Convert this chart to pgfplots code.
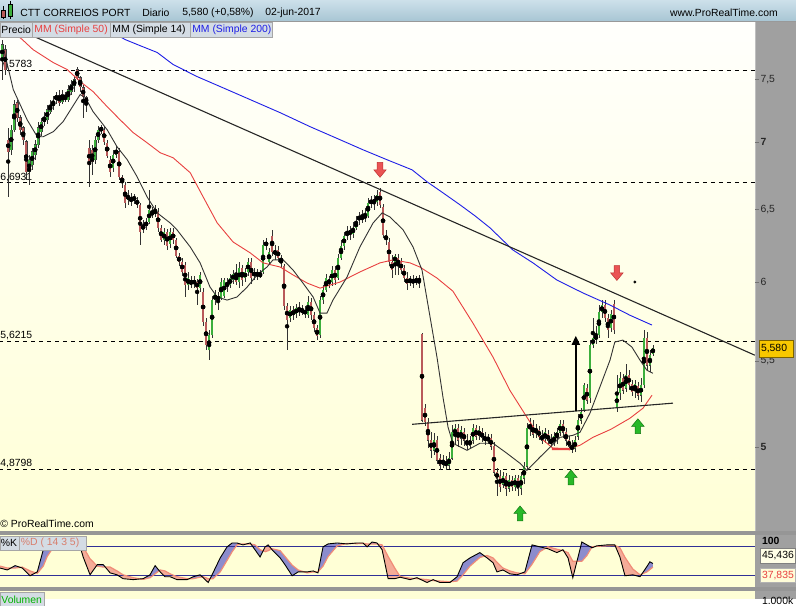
\documentclass[border=0pt]{standalone}
\usepackage{pgfplots}
\pgfplotsset{compat=1.18}
\usepackage{pgfplotstable}
\usepgfplotslibrary{fillbetween}
\usetikzlibrary{arrows.meta}
\usepackage{fontspec}
\setmainfont{Liberation Sans}
\newcommand\f{\fontsize{10.4bp}{12bp}\selectfont}

\definecolor{cup}{RGB}{60,175,60}
\definecolor{cdn}{RGB}{185,90,90}
\definecolor{ma50}{RGB}{232,64,64}
\definecolor{ma200}{RGB}{30,30,230}
\definecolor{stripe}{RGB}{160,160,160}
\definecolor{sep}{RGB}{150,150,150}
\definecolor{hdrtop}{RGB}{205,224,234}
\definecolor{hdrbot}{RGB}{168,198,212}
\definecolor{tabbg}{RGB}{212,220,228}
\definecolor{pantop}{RGB}{255,255,252}
\definecolor{panbot}{RGB}{255,255,214}
\definecolor{stobg}{RGB}{255,255,214}
\definecolor{kfill}{RGB}{140,140,205}
\definecolor{dfill}{RGB}{244,172,152}
\definecolor{dline}{RGB}{240,140,120}
\definecolor{lvl}{RGB}{48,48,150}
\definecolor{arrR}{RGB}{234,84,84}
\definecolor{arrRd}{RGB}{190,50,50}
\definecolor{arrG}{RGB}{40,185,40}
\definecolor{arrGd}{RGB}{20,120,20}
\definecolor{gold}{RGB}{248,200,0}

\pgfdeclareplotmark{uparr}{%
  \pgfpathmoveto{\pgfqpoint{-2.8pt}{-7.5pt}}%
  \pgfpathlineto{\pgfqpoint{2.8pt}{-7.5pt}}%
  \pgfpathlineto{\pgfqpoint{2.8pt}{0pt}}%
  \pgfpathlineto{\pgfqpoint{6.2pt}{0pt}}%
  \pgfpathlineto{\pgfqpoint{0pt}{7.5pt}}%
  \pgfpathlineto{\pgfqpoint{-6.2pt}{0pt}}%
  \pgfpathlineto{\pgfqpoint{-2.8pt}{0pt}}%
  \pgfpathclose\pgfusepathqfillstroke}
\pgfdeclareplotmark{dnarr}{%
  \pgfpathmoveto{\pgfqpoint{-2.8pt}{7.5pt}}%
  \pgfpathlineto{\pgfqpoint{2.8pt}{7.5pt}}%
  \pgfpathlineto{\pgfqpoint{2.8pt}{0pt}}%
  \pgfpathlineto{\pgfqpoint{6.2pt}{0pt}}%
  \pgfpathlineto{\pgfqpoint{0pt}{-7.5pt}}%
  \pgfpathlineto{\pgfqpoint{-6.2pt}{0pt}}%
  \pgfpathlineto{\pgfqpoint{-2.8pt}{0pt}}%
  \pgfpathclose\pgfusepathqfillstroke}

% daily candles: open high low close
\pgfplotstableread{
i o h l c
0 7.668 7.839 7.500 7.796
1 7.753 7.796 7.542 7.583
2 7.019 7.113 6.591 6.927
3 6.942 7.136 6.904 7.097
4 7.097 7.336 7.081 7.296
5 7.312 7.336 7.160 7.192
6 7.192 7.216 7.058 7.097
7 7.113 7.129 6.981 7.019
8 7.004 7.019 6.716 6.775
9 6.775 6.904 6.679 6.866
10 6.828 6.957 6.790 6.927
11 6.904 7.019 6.866 6.981
12 6.981 7.160 6.957 7.113
13 7.081 7.192 7.050 7.160
14 7.160 7.240 7.129 7.192
15 7.176 7.296 7.144 7.256
16 7.240 7.336 7.224 7.296
17 7.288 7.369 7.256 7.320
18 7.336 7.402 7.304 7.369
19 7.369 7.418 7.288 7.312
20 7.320 7.418 7.304 7.377
21 7.369 7.402 7.320 7.336
22 7.336 7.459 7.320 7.418
23 7.402 7.500 7.377 7.459
24 7.451 7.533 7.402 7.500
25 7.583 7.608 7.500 7.516
26 7.516 7.533 7.402 7.443
27 7.434 7.459 7.192 7.361
28 7.353 7.369 7.240 7.312
29 6.957 7.019 6.664 6.828
30 6.942 6.981 6.753 6.851
31 6.866 7.050 6.836 7.019
32 7.019 7.129 6.996 7.097
33 7.089 7.136 7.066 7.113
34 7.097 7.121 6.981 7.004
35 6.996 7.019 6.881 6.896
36 6.866 6.896 6.738 6.775
37 6.805 6.942 6.775 6.904
38 6.904 6.973 6.881 6.942
39 6.927 6.957 6.716 6.738
40 6.738 6.753 6.657 6.694
41 6.679 6.701 6.511 6.547
42 6.569 6.642 6.533 6.605
43 6.584 6.620 6.526 6.555
44 6.569 6.613 6.540 6.591
45 6.569 6.591 6.511 6.533
46 6.533 6.547 6.251 6.341
47 6.355 6.425 6.334 6.390
48 6.383 6.439 6.355 6.411
49 6.411 6.642 6.397 6.497
50 6.483 6.519 6.439 6.461
51 6.468 6.533 6.447 6.497
52 6.483 6.511 6.341 6.369
53 6.369 6.390 6.271 6.285
54 6.285 6.369 6.251 6.341
55 6.341 6.362 6.216 6.244
56 6.257 6.369 6.230 6.341
57 6.341 6.369 6.257 6.285
58 6.285 6.299 6.162 6.175
59 6.175 6.196 6.107 6.134
60 6.134 6.162 6.040 6.067
61 6.114 6.134 5.902 5.980
62 5.980 6.067 5.947 6.026
63 6.013 6.040 5.960 5.980
64 5.987 6.040 5.960 6.013
65 6.000 6.020 5.850 5.960
66 5.960 6.067 5.934 6.047
67 5.934 5.960 5.715 5.740
68 5.740 5.766 5.566 5.597
69 5.566 5.690 5.505 5.659
70 5.659 5.908 5.640 5.882
71 5.882 5.947 5.850 5.921
72 5.908 5.934 5.817 5.882
73 5.895 6.026 5.882 6.000
74 5.908 6.026 5.895 6.013
75 6.000 6.026 5.934 5.973
76 5.980 6.053 5.960 6.026
77 6.013 6.080 5.987 6.053
78 6.053 6.121 5.980 6.000
79 6.000 6.134 5.960 6.094
80 6.094 6.114 5.973 6.013
81 6.026 6.094 6.000 6.067
82 6.067 6.162 6.040 6.134
83 6.134 6.162 5.987 6.026
84 6.040 6.094 6.013 6.067
85 6.067 6.087 6.013 6.040
86 6.040 6.080 6.026 6.053
87 6.067 6.285 6.053 6.251
88 6.244 6.299 6.216 6.271
89 6.134 6.230 6.114 6.202
90 6.313 6.355 6.175 6.202
91 6.216 6.251 6.148 6.182
92 6.216 6.244 6.134 6.162
93 6.162 6.182 6.094 6.134
94 6.107 6.121 5.817 5.843
95 5.843 5.863 5.566 5.753
96 5.766 5.843 5.740 5.817
97 5.817 5.843 5.753 5.785
98 5.791 5.856 5.766 5.830
99 5.830 5.869 5.779 5.804
100 5.804 5.850 5.785 5.824
101 5.817 5.843 5.766 5.791
102 5.785 5.908 5.766 5.869
103 5.869 5.895 5.753 5.785
104 5.785 5.804 5.678 5.703
105 5.703 5.722 5.628 5.653
106 5.659 5.908 5.640 5.882
107 5.882 5.980 5.856 5.947
108 5.947 6.053 5.934 6.026
109 6.013 6.040 5.960 5.993
110 6.000 6.107 5.973 6.080
111 6.080 6.107 5.980 6.013
112 6.026 6.189 6.013 6.162
113 6.162 6.285 6.148 6.244
114 6.244 6.341 6.216 6.313
115 6.313 6.383 6.285 6.341
116 6.355 6.383 6.285 6.320
117 6.327 6.411 6.299 6.369
118 6.369 6.454 6.355 6.411
119 6.425 6.483 6.390 6.454
120 6.454 6.497 6.404 6.425
121 6.439 6.511 6.411 6.461
122 6.454 6.584 6.439 6.547
123 6.540 6.598 6.511 6.569
124 6.569 6.605 6.497 6.547
125 6.555 6.642 6.526 6.605
126 6.627 6.657 6.511 6.533
127 6.519 6.540 6.299 6.320
128 6.313 6.355 6.251 6.285
129 6.271 6.299 6.107 6.134
130 6.134 6.182 6.026 6.080
131 6.134 6.189 6.047 6.175
132 6.162 6.189 6.047 6.107
133 6.134 6.162 6.053 6.080
134 6.094 6.114 6.000 6.026
135 6.026 6.067 5.947 5.987
136 6.000 6.040 5.973 6.020
137 6.020 6.047 5.960 5.993
138 5.993 6.040 5.980 6.026
139 6.026 6.047 5.960 6.000
140 5.665 5.672 5.141 5.152
141 5.221 5.244 5.118 5.141
142 5.141 5.163 4.995 5.039
143 5.039 5.084 4.940 4.984
144 4.984 5.078 4.957 5.039
145 5.039 5.061 4.907 4.929
146 4.940 4.962 4.875 4.902
147 4.907 4.957 4.886 4.929
148 4.918 4.951 4.875 4.902
149 4.902 4.973 4.880 4.940
150 4.940 5.124 4.929 5.084
151 5.073 5.129 5.012 5.107
152 5.107 5.129 5.001 5.039
153 5.050 5.118 5.012 5.095
154 5.084 5.107 5.006 5.039
155 5.039 5.073 4.984 5.012
156 5.012 5.061 4.995 5.039
157 5.039 5.129 5.017 5.107
158 5.107 5.124 5.039 5.061
159 5.067 5.118 5.039 5.095
160 5.084 5.107 5.028 5.056
161 5.061 5.084 5.012 5.039
162 5.039 5.073 5.017 5.056
163 5.050 5.073 4.984 5.006
164 5.006 5.028 4.843 4.864
165 4.864 4.886 4.742 4.832
166 4.843 4.875 4.758 4.789
167 4.800 4.864 4.779 4.843
168 4.843 4.859 4.742 4.779
169 4.779 4.848 4.758 4.821
170 4.821 4.843 4.768 4.789
171 4.789 4.853 4.763 4.832
172 4.832 4.848 4.737 4.779
173 4.779 4.864 4.747 4.843
174 4.832 4.918 4.800 4.897
175 4.897 5.135 4.875 5.107
176 5.107 5.163 5.061 5.129
177 5.118 5.152 5.050 5.073
178 5.084 5.129 5.050 5.107
179 5.095 5.118 5.039 5.061
180 5.067 5.095 5.017 5.039
181 5.050 5.107 5.023 5.084
182 5.073 5.095 5.017 5.039
183 5.039 5.073 5.001 5.023
184 5.028 5.084 5.006 5.061
185 5.056 5.107 5.017 5.084
186 5.084 5.152 5.061 5.129
187 5.129 5.152 5.050 5.084
188 5.084 5.107 5.006 5.039
189 5.039 5.061 4.984 5.006
190 5.006 5.039 4.968 4.990
191 4.995 5.061 4.973 5.039
192 5.061 5.186 5.039 5.152
193 5.152 5.221 5.129 5.198
194 5.209 5.366 5.198 5.355
195 5.337 5.360 5.244 5.267
196 5.279 5.628 5.250 5.597
197 5.597 5.766 5.578 5.640
198 5.628 5.715 5.603 5.659
199 5.659 5.850 5.640 5.804
200 5.804 5.882 5.766 5.850
201 5.850 5.882 5.740 5.766
202 5.766 5.791 5.640 5.690
203 5.703 5.817 5.678 5.791
204 5.856 5.882 5.665 5.690
205 5.221 5.414 5.198 5.308
206 5.308 5.432 5.267 5.396
207 5.396 5.420 5.302 5.325
208 5.337 5.480 5.314 5.414
209 5.414 5.444 5.325 5.355
210 5.360 5.384 5.290 5.314
211 5.325 5.384 5.279 5.360
212 5.349 5.372 5.267 5.296
213 5.296 5.396 5.256 5.355
214 5.355 5.690 5.337 5.640
215 5.640 5.678 5.444 5.474
216 5.474 5.566 5.432 5.536
217 5.542 5.597 5.530 5.580
}\candles

% MM (Simple 200)
\pgfplotstableread{
i p
26.0 8.000
32.7 7.942
38.7 7.873
41.0 7.839
46.0 7.787
51.7 7.728
57.0 7.626
65.0 7.525
72.7 7.443
82.7 7.336
92.7 7.232
102.7 7.121
112.7 7.019
120.3 6.942
128.3 6.866
136.7 6.790
141.7 6.701
147.0 6.620
152.7 6.533
157.7 6.454
162.7 6.369
170.3 6.216
177.0 6.128
185.0 6.013
193.7 5.928
202.7 5.850
209.3 5.785
216.7 5.722
}\maL

% MM (Simple 50)
\pgfplotstableread{
i p
-0.7 8.000
1.0 7.959
6.7 7.839
10.3 7.753
17.0 7.643
21.7 7.583
26.0 7.484
30.3 7.402
35.0 7.280
39.3 7.176
43.7 7.074
48.3 6.996
52.7 6.919
57.0 6.881
62.7 6.768
67.0 6.591
71.7 6.404
77.0 6.271
82.7 6.196
87.0 6.128
92.7 6.100
97.0 6.047
101.7 5.993
106.0 5.960
112.7 6.000
119.3 6.067
126.0 6.128
130.3 6.148
136.0 6.128
139.3 6.100
145.0 6.026
150.3 5.940
157.0 5.734
163.7 5.523
169.3 5.325
175.0 5.169
179.3 5.056
183.7 4.995
188.3 4.990
192.7 5.012
197.0 5.056
203.0 5.101
209.3 5.163
213.7 5.221
216.7 5.296
}\maM

% MM (Simple 14)
\pgfplotstableread{
i p
0.3 7.779
3.7 7.418
8.3 7.176
11.7 7.042
13.7 7.042
17.0 7.081
20.3 7.160
24.3 7.312
26.0 7.377
27.7 7.353
30.3 7.240
35.0 7.097
38.3 6.965
41.7 6.866
45.0 6.738
48.3 6.591
51.7 6.475
56.0 6.404
58.3 6.355
62.7 6.237
66.0 6.128
69.3 5.967
71.7 5.902
75.0 5.882
78.3 5.902
81.7 5.967
85.0 6.047
88.3 6.100
90.3 6.148
93.7 6.148
97.0 6.080
100.3 5.993
103.7 5.902
106.0 5.798
108.3 5.798
110.3 5.882
115.0 6.033
119.3 6.237
123.7 6.404
126.7 6.475
129.3 6.447
133.7 6.355
137.0 6.237
140.0 6.080
142.7 5.772
145.0 5.523
147.0 5.284
148.7 5.112
150.3 5.023
155.0 4.984
159.3 5.023
163.7 5.023
168.3 4.968
172.7 4.913
175.0 4.875
179.3 4.946
182.7 5.001
186.0 5.056
190.3 5.067
192.7 5.084
196.0 5.192
199.3 5.343
202.7 5.505
204.3 5.616
207.0 5.628
210.0 5.585
212.7 5.505
215.0 5.444
217.0 5.426
}\maS

% Stochastic %K and %D (14 3 5)
\pgfplotstableread{
i K D
-0.7 36 40
1.7 32 36
4.3 41 36
6.7 36 38
9.3 20 30
11.7 28 25
13.7 74 40
15.0 100 60
17.7 100 85
21.0 98 96
23.3 95 97
26.0 80 90
27.0 59 80
29.3 22 55
31.7 43 40
33.7 43 38
36.0 26 38
38.3 22 30
40.3 14 22
43.7 12 16
47.0 14 12.5
49.3 22 16
51.0 41 24
52.7 28 32
54.3 18 30
56.0 18 24
58.3 12 18
61.7 12 14
63.7 18 14
66.0 22 17
67.0 16 18
68.7 6 14
70.3 26 14
72.7 57 28
75.0 80 52
76.7 88 70
78.3 88 84
80.3 84 86
82.7 88 86
84.3 74 84
86.0 59 74
87.7 80 70
88.7 84 72
90.0 74 76
92.7 57 72
94.3 43 60
96.7 20 42
98.7 28 32
101.7 28 26
103.7 30 28
105.3 26 28
107.0 80 40
108.7 86 60
111.7 88 82
115.0 86 87
118.3 88 86.5
120.3 88 87
121.7 80 86
123.3 90 86
125.0 88 86
126.7 74 84
128.7 14 60
131.0 14 35
132.7 17 18.5
136.0 12 15
138.3 16 14
141.7 6 12
143.7 12 10
146.0 6 9
149.3 6 7.5
151.7 18 9
153.7 47 22
156.0 57 40
159.3 68 58
161.7 57 62
163.7 47 57
165.0 28 48
167.0 32 36
169.3 24 30
171.7 22 26
174.3 28 24
176.7 84 44
179.3 80 70
182.0 76 80
185.0 68 75
187.0 74 72
188.7 57 68
190.3 16 50
193.3 90 50
195.0 84 62
196.7 78 80
198.3 82 81
201.7 84 82
204.3 84 83
206.0 59 78
207.7 20 58
210.3 22 34
212.7 18 22
215.0 39 28
216.0 49 33
217.0 45.436 37.835
}\stoch

\begin{document}
\begin{tikzpicture}
\begin{scope}[x=1bp,y=-1bp]
\useasboundingbox (0,0) rectangle (796,599);
\fill[stripe] (755,0) rectangle (796,599);
\shade[top color=pantop,bottom color=panbot] (0,21) rectangle (755,531);
\fill[sep] (0,531) rectangle (796,535.5);
\fill[sep] (0,587) rectangle (796,591);
\fill[stobg] (0,591) rectangle (755,599);
\draw[black!25,line width=0.8bp] (755.4,21) -- (755.4,531);
\node[font=\f,anchor=west,inner sep=0] at (0,65) {7,5783};
\node[font=\f,anchor=west,inner sep=0] at (0,178) {6,6931};
\node[font=\f,anchor=west,inner sep=0] at (0,336) {5,6215};
\node[font=\f,anchor=west,inner sep=0] at (0,464) {4,8798};
\node[font=\f,anchor=west,inner sep=0] at (0,524.5) {© ProRealTime.com};
\end{scope}

% price panel
\begin{axis}[
  at={(0bp,-531bp)}, anchor=south west,
  width=755bp, height=510bp, scale only axis,
  ymode=log, ymin=4.5615, ymax=8.0,
  xmin=-0.667, xmax=251,
  axis line style={draw=none},
  xtick=\empty,
  ytick={5,5.5,6,6.5,7,7.5},
  yticklabels={\textbf{5},{5,5},6,{6,5},\textbf{7},{7,5}},
  ytick pos=right, yticklabel pos=right,
  tick align=outside, major tick length=4bp,
  ytick style={draw=black!55, line width=0.6bp},
  yticklabel style={font=\f, text=black!85, inner sep=1.5bp},
]
\addplot[black, line width=0.8bp, dash pattern=on 4bp off 4bp] coordinates {(-1,7.5783) (252,7.5783)};
\addplot[black, line width=0.8bp, dash pattern=on 4bp off 4bp] coordinates {(-1,6.6931) (252,6.6931)};
\addplot[black, line width=0.8bp, dash pattern=on 4bp off 4bp] coordinates {(-1,5.6215) (252,5.6215)};
\addplot[black, line width=0.8bp, dash pattern=on 4bp off 4bp] coordinates {(-1,4.8798) (252,4.8798)};

% wicks
\addplot[only marks, mark=none, error bars/.cd, y dir=both, y explicit, error mark=none,
  error bar style={draw=black!80, line width=0.7bp}]
  table[x=i, y expr={(\thisrow{h}+\thisrow{l})/2}, y error expr={(\thisrow{h}-\thisrow{l})/2}] {\candles};
% body outlines
\addplot[only marks, mark=none, error bars/.cd, y dir=both, y explicit, error mark=none,
  error bar style={draw=black!75, line width=2.7bp}]
  table[x=i, y expr={(\thisrow{o}+\thisrow{c})/2}, y error expr={abs(\thisrow{c}-\thisrow{o})/2+0.0015}] {\candles};
% rising bodies
\addplot[only marks, mark=none, restrict expr to domain={\thisrow{c}-\thisrow{o}}{0:10},
  error bars/.cd, y dir=both, y explicit, error mark=none,
  error bar style={draw=cup, line width=1.7bp}]
  table[x=i, y expr={(\thisrow{o}+\thisrow{c})/2}, y error expr={abs(\thisrow{c}-\thisrow{o})/2}] {\candles};
% falling bodies
\addplot[only marks, mark=none, restrict expr to domain={\thisrow{c}-\thisrow{o}}{-10:0},
  error bars/.cd, y dir=both, y explicit, error mark=none,
  error bar style={draw=cdn, line width=1.7bp}]
  table[x=i, y expr={(\thisrow{o}+\thisrow{c})/2}, y error expr={abs(\thisrow{c}-\thisrow{o})/2}] {\candles};

\addplot[ma200, line width=0.9bp] table[x=i, y=p] {\maL};
\addplot[ma50, line width=0.9bp] table[x=i, y=p] {\maM};
\addplot[ma50, line width=2.4bp] coordinates {(183.3,4.992) (189.3,4.991)};
\addplot[black!80, line width=0.9bp] table[x=i, y=p] {\maS};

% trend lines
\addplot[black!85, line width=1.1bp] coordinates {(-0.667,7.997) (251,5.535)};
\addplot[black!85, line width=1.1bp] coordinates {(136.7,5.129) (223.7,5.250)};
\addplot[black, line width=1.6bp, -{Triangle[width=8bp,length=9bp]}] coordinates {(191.3,5.203) (191.3,5.655)};
\addplot[only marks, mark=*, mark size=1.3bp, black] coordinates {(211,6.000)};

% signal arrows
\addplot[only marks, mark=dnarr, mark options={fill=arrR, draw=arrRd, line width=0.5bp}]
  coordinates {(126,6.790) (205,6.060)};
\addplot[only marks, mark=uparr, mark options={fill=arrG, draw=arrGd, line width=0.5bp}]
  coordinates {(172.7,4.649) (189.7,4.837) (212,5.118)};
\end{axis}

% stochastic panel
\begin{axis}[
  at={(0bp,-587bp)}, anchor=south west,
  width=755bp, height=51.5bp, scale only axis,
  xmin=-0.667, xmax=251, ymin=-2.7, ymax=104,
  axis line style={draw=none}, ticks=none,
  axis background/.style={fill=stobg},
]
\addplot[lvl, line width=0.8bp] coordinates {(-1,80) (252,80)};
\addplot[lvl, line width=0.8bp] coordinates {(-1,20) (252,20)};
\addplot[draw=none, name path=K] table[x=i, y=K] {\stoch};
\addplot[draw=none, name path=D] table[x=i, y=D] {\stoch};
\addplot[fill=dfill, draw=none] fill between[of=K and D, split,
  every odd segment/.style={fill=kfill}];
\addplot[dline, line width=1.2bp] table[x=i, y=D] {\stoch};
\addplot[black, line width=0.9bp] table[x=i, y=K] {\stoch};
\end{axis}

\begin{scope}[x=1bp,y=-1bp]
% header bar
\shade[top color=hdrtop,bottom color=hdrbot] (0,0) rectangle (796,21);
\draw[black!40] (0,21) -- (796,21);
\draw[black] (3.5,6) -- (3.5,19);
\filldraw[fill=cdn,draw=black,line width=0.5bp] (1.5,10) rectangle (5.5,17);
\draw[black] (10.5,1) -- (10.5,19);
\filldraw[fill=cup,draw=black,line width=0.5bp] (8.5,4) rectangle (12.5,16);
\node[font=\f,anchor=west,inner sep=0] at (20,12.5) {CTT CORREIOS PORT};
\node[font=\f,anchor=west,inner sep=0] at (142,12.5) {Diario};
\node[font=\f,anchor=west,inner sep=0] at (182,12.5) {5,580 (+0,58\%)};
\node[font=\f,anchor=west,inner sep=0] at (265,12.5) {02-jun-2017};
\node[font=\f,anchor=west,inner sep=0] at (670,12.5) {www.ProRealTime.com};
% legend tabs
\filldraw[fill=tabbg,draw=black!35] (0,22) rectangle (32,37.5);
\filldraw[fill=tabbg,draw=black!35] (32,22) rectangle (110,37.5);
\filldraw[fill=tabbg,draw=black!35] (110,22) rectangle (190,37.5);
\filldraw[fill=tabbg,draw=black!35] (190,22) rectangle (272,37.5);
\node[font=\f,anchor=west,inner sep=0] at (1,30) {Precio};
\node[font=\f,anchor=west,inner sep=0,text=ma50] at (34,30) {MM (Simple 50)};
\node[font=\f,anchor=west,inner sep=0] at (112,30) {MM (Simple 14)};
\node[font=\f,anchor=west,inner sep=0,text=ma200] at (192,30) {MM (Simple 200)};
% last price
\filldraw[fill=gold,draw=black!50!gold] (759.5,340.5) rectangle (793.5,357);
\node[font=\f,anchor=west,inner sep=0] at (761,349) {5,580};
% stochastic labels
\filldraw[fill=tabbg,draw=black!35] (0,536) rectangle (19,550.5);
\filldraw[fill=tabbg,draw=black!35] (19,536) rectangle (86,550.5);
\node[font=\f,anchor=west,inner sep=0] at (0.5,543.5) {\%K};
\node[font=\f,anchor=west,inner sep=0,text=dline!90!black] at (20.5,543.5) {\%D ( 14 3 5)};
\node[font=\f\bfseries,anchor=west,inner sep=0] at (762,541) {100};
\filldraw[fill=white!90!yellow,draw=black!50] (760.5,548.5) rectangle (795.5,563);
\node[font=\f,anchor=west,inner sep=0] at (762,556) {45,436};
\filldraw[fill=white!85!yellow,draw=black!30] (760.5,568.5) rectangle (795.5,582.5);
\node[font=\f,anchor=west,inner sep=0,text=ma50] at (762,575.5) {37,835};
% volume panel top
\filldraw[fill=tabbg,draw=black!35] (0,592) rectangle (44,606);
\node[font=\f,anchor=west,inner sep=0,text=green!70!black] at (1,600) {Volumen};
\node[font=\f,anchor=west,inner sep=0] at (762,601) {1.000k};
\end{scope}
\end{tikzpicture}
\end{document}
